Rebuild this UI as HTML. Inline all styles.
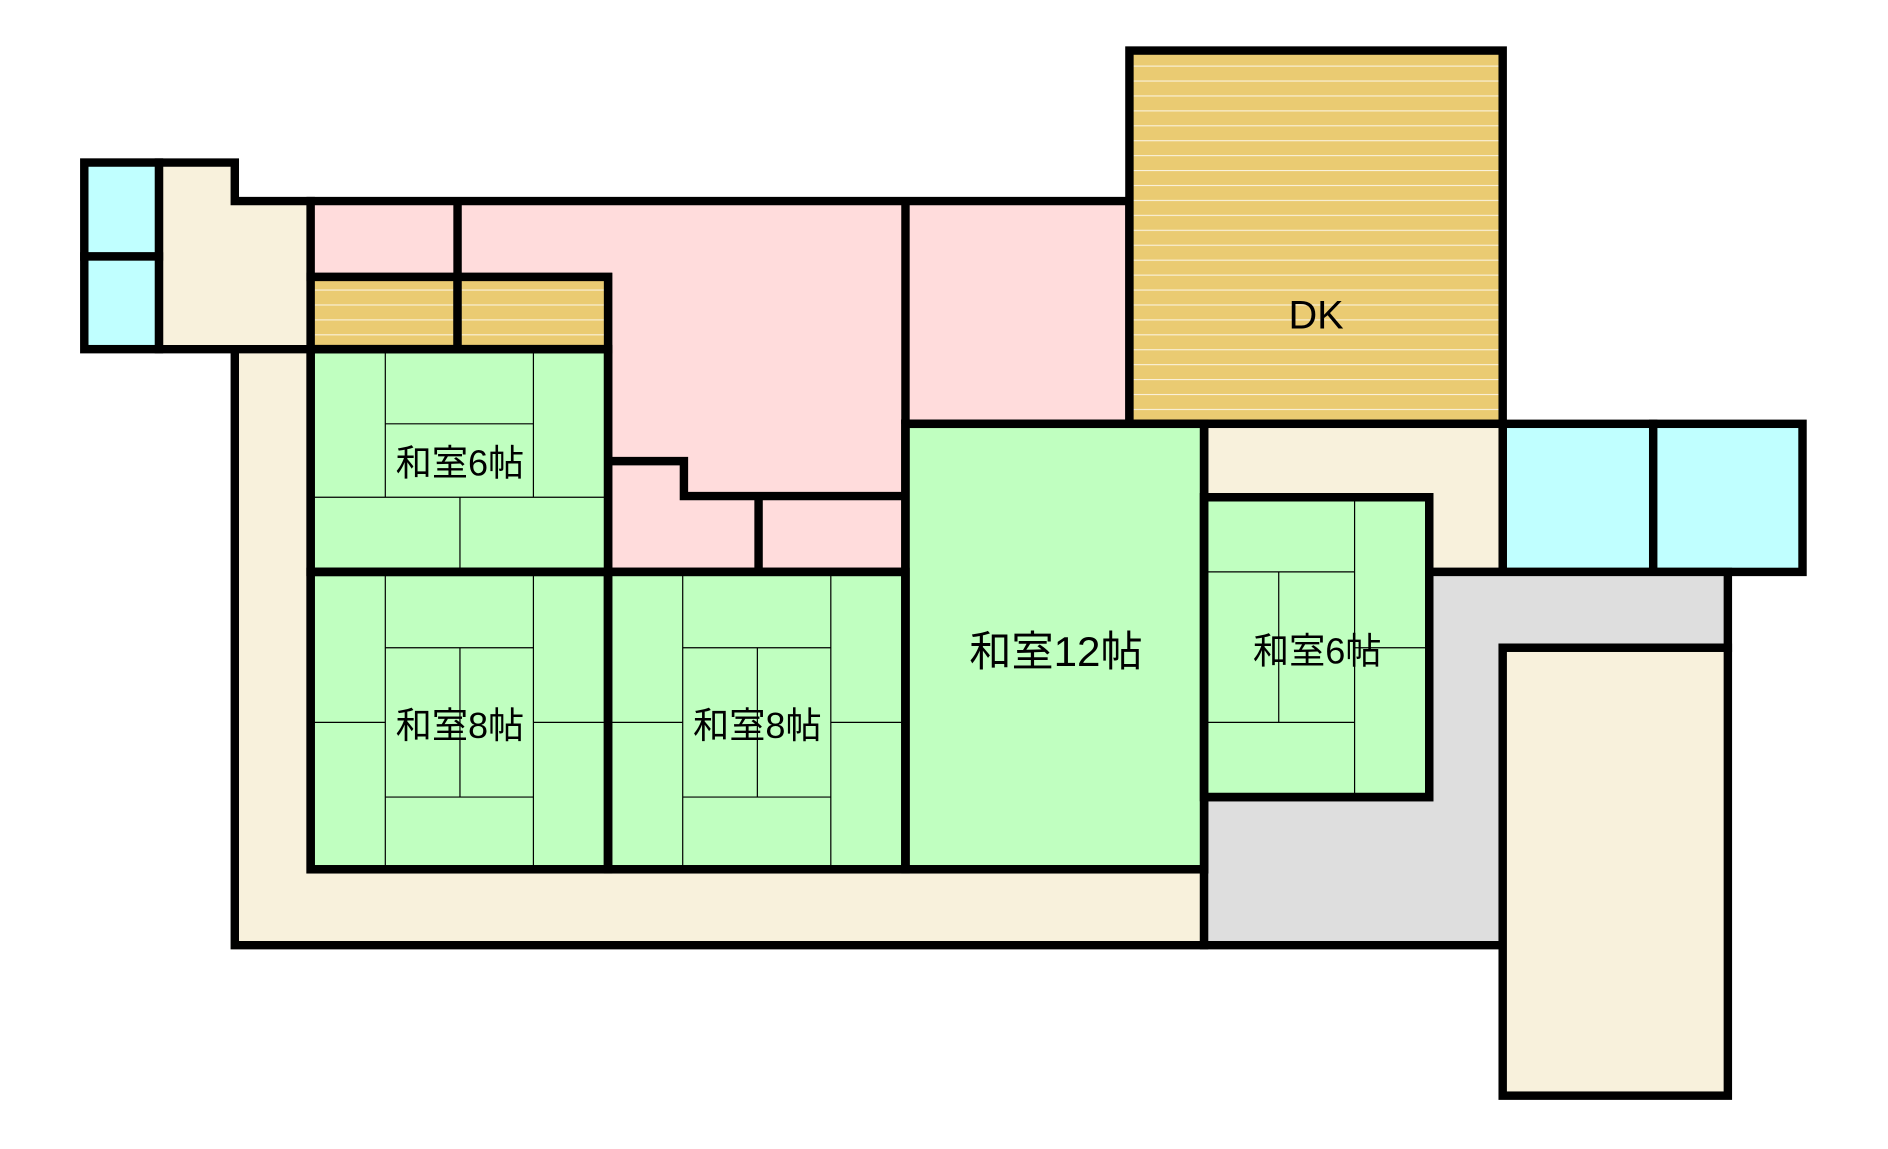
<!DOCTYPE html>
<html><head><meta charset="utf-8"><style>html,body{margin:0;padding:0;background:#fff}svg{display:block}</style></head>
<body>
<svg width="1888" height="1149" viewBox="0 0 1568 954.3" preserveAspectRatio="none" xmlns="http://www.w3.org/2000/svg">
<defs>
<pattern id="fl" width="10" height="12.4" patternUnits="userSpaceOnUse" y="42">
<rect width="10" height="12.4" fill="#eacb72"/><line x1="0" y1="0.5" x2="10" y2="0.5" stroke="#fff" stroke-width="0.8" opacity="0.85"/>
</pattern>
</defs>
<g stroke="#000" stroke-width="7" stroke-linejoin="miter">
<polygon points="132,135 195,135 195,167 258,167 258,290 132,290" fill="#f8f1dc"/>
<polygon points="195,290 258,290 258,722 1000,722 1000,785 195,785" fill="#f8f1dc"/>
<polygon points="258,167 938,167 938,352 752,352 752,475 505,475 505,230 258,230" fill="#ffdcdc"/>
<line x1="380" y1="167" x2="380" y2="230"/>
<line x1="752" y1="167" x2="752" y2="352"/>
<polyline points="505,383 568,383 568,412 752,412" fill="none"/>
<line x1="630" y1="412" x2="630" y2="475"/>
<rect x="258" y="230" width="122" height="60" fill="url(#fl)"/>
<rect x="380" y="230" width="125" height="60" fill="url(#fl)"/>
<rect x="938" y="42" width="310" height="310" fill="url(#fl)"/>
<rect x="70" y="135" width="62" height="78" fill="#c0ffff"/>
<rect x="70" y="213" width="62" height="77" fill="#c0ffff"/>
<rect x="1248" y="352" width="125" height="123" fill="#c0ffff"/>
<rect x="1373" y="352" width="124" height="123" fill="#c0ffff"/>
<rect x="1000" y="352" width="248" height="123" fill="#f8f1dc"/>
<polygon points="1187,475 1435,475 1435,538 1248,538 1248,785 1000,785 1000,662 1187,662" fill="#dedede"/>
<rect x="1248" y="538" width="187" height="372" fill="#f8f1dc"/>
<rect x="258" y="290" width="247" height="185" fill="#c0ffc0"/>
<rect x="258" y="475" width="247" height="247" fill="#c0ffc0"/>
<rect x="505" y="475" width="247" height="247" fill="#c0ffc0"/>
<rect x="752" y="352" width="248" height="370" fill="#c0ffc0"/>
<rect x="1000" y="413" width="187" height="249" fill="#c0ffc0"/>
</g>
<g stroke="#000" stroke-width="1" fill="none">
<path d="M320,290V413M443,290V413M258,413H505M320,352H443M382,413V475"/>
<path d="M320,475V722M443,475V722M320,538H443M320,662H443M382,538V662M258,600H320M443,600H505"/>
<path d="M567,475V722M690,475V722M567,538H690M567,662H690M629,538V662M505,600H567M690,600H752"/>
<path d="M1125,413V662M1000,475H1125M1000,600H1125M1062,475V600M1125,538H1187"/>
</g>
<g stroke="#000" stroke-width="7" fill="none">
<rect x="258" y="290" width="247" height="185"/>
<rect x="258" y="475" width="247" height="247"/>
<rect x="505" y="475" width="247" height="247"/>
<rect x="752" y="352" width="248" height="370"/>
<rect x="1000" y="413" width="187" height="249"/>
</g>
<g font-family="'Liberation Sans','Noto Sans CJK JP',sans-serif" fill="#000" text-anchor="middle">
<text x="382" y="395" font-size="30">和室6帖</text>
<text x="382" y="613" font-size="30">和室8帖</text>
<text x="629" y="613" font-size="30">和室8帖</text>
<text x="877" y="553" font-size="35">和室12帖</text>
<text x="1094" y="551" font-size="30">和室6帖</text>
<text x="1093" y="273" font-size="33">DK</text>
</g>
</svg>
</body></html>
